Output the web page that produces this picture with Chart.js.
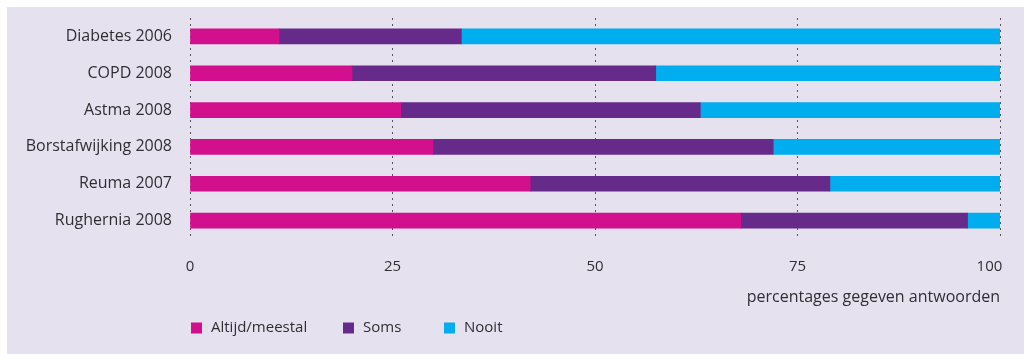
<!DOCTYPE html>
<html>
<head>
<meta charset="utf-8">
<script src="https://cdn.jsdelivr.net/npm/chart.js@4/dist/chart.umd.min.js"></script>
<style>
  html, body { margin: 0; padding: 0; background: #ffffff; }
  #wrap { position: absolute; left: 0; top: 0; width: 1024px; height: 354px; }
</style>
</head>
<body>
<div id="wrap"><canvas id="c" width="1024" height="354"></canvas></div>
<script>
// Aandoeningen (met jaar van meting)
const categories = ['Diabetes 2006', 'COPD 2008', 'Astma 2008', 'Borstafwijking 2008', 'Reuma 2007', 'Rughernia 2008'];

// Percentages per antwoordcategorie
const altijdMeestal = [11, 20, 26, 30, 42, 68];
const soms = [22.5, 37.5, 37, 42, 37, 28];
const nooit = [66.5, 42.5, 37, 28, 21, 4];

const seriesNames = ['Altijd/meestal', 'Soms', 'Nooit'];
const seriesColors = ['#d20f8c', '#662a8a', '#00aeef'];

const xTicks = [0, 25, 50, 75, 100];
const xTitle = 'percentages gegeven antwoorden';

const FONT = '"Open Sans", "Noto Sans", sans-serif';
const TEXT = '#2f2f33';

// Lavender panel behind the chart
const panelPlugin = {
  id: 'panel',
  beforeDraw(chart) {
    const ctx = chart.ctx;
    ctx.save();
    ctx.fillStyle = '#e6e1ef';
    ctx.fillRect(7, 7, chart.width - 7, chart.height - 7);
    ctx.restore();
  }
};

// Legend row along the bottom
const legendPlugin = {
  id: 'legendRow',
  afterDraw(chart) {
    const ctx = chart.ctx;
    const xs = [191, 343, 444];
    const yc = 328;
    ctx.save();
    ctx.font = '15px ' + FONT;
    ctx.textBaseline = 'middle';
    ctx.textAlign = 'left';
    chart.data.datasets.forEach((ds, i) => {
      ctx.fillStyle = ds.backgroundColor;
      ctx.fillRect(xs[i], yc - 5.5, 11, 11);
      ctx.fillStyle = TEXT;
      ctx.fillText(ds.label, xs[i] + 20, yc);
    });
    ctx.restore();
  }
};

const values = [altijdMeestal, soms, nooit];

new Chart(document.getElementById('c'), {
  type: 'bar',
  data: {
    labels: categories,
    datasets: values.map((v, i) => ({
      label: seriesNames[i],
      data: v,
      backgroundColor: seriesColors[i],
      borderWidth: 0,
      barThickness: 15
    }))
  },
  options: {
    indexAxis: 'y',
    responsive: false,
    animation: false,
    devicePixelRatio: 1,
    layout: { padding: { top: 18, right: 24, left: 0, bottom: 0 } },
    plugins: {
      legend: { display: false },
      tooltip: { enabled: false }
    },
    scales: {
      x: {
        stacked: true,
        min: 0,
        max: 100,
        afterBuildTicks(scale) {
          scale.ticks = xTicks.map(v => ({ value: v }));
        },
        afterFit(scale) {
          scale.height = 115;
          scale.paddingLeft = 0;
          scale.paddingRight = 0;
        },
        border: { display: false, dash: [2, 4] },
        grid: {
          color: '#55535a',
          lineWidth: 1,
          drawTicks: false
        },
        ticks: {
          padding: 19,
          color: TEXT,
          font: { family: FONT, size: 15 },
          maxRotation: 0,
          // keep the last label inside the panel edge
          callback: (v) => v === 100 ? '100\u2007\u2007\u2008' : String(v)
        },
        title: {
          display: true,
          text: xTitle,
          align: 'end',
          color: TEXT,
          font: { family: FONT, size: 16 },
          padding: { top: 0, bottom: 47 }
        }
      },
      y: {
        stacked: true,
        afterFit(scale) {
          scale.width = 190;
          scale.paddingTop = 0;
          scale.paddingBottom = 0;
        },
        border: { display: false },
        grid: { display: false, drawTicks: false },
        ticks: {
          padding: 18,
          color: TEXT,
          font: { family: FONT, size: 16 }
        }
      }
    }
  },
  plugins: [panelPlugin, legendPlugin]
});
</script>
</body>
</html>
